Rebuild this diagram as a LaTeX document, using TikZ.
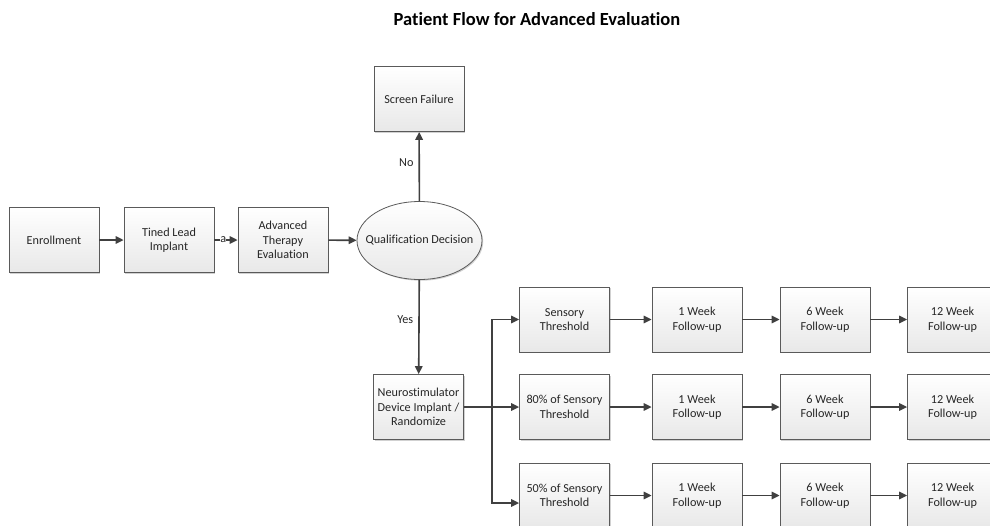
\documentclass[tikz,border=0pt]{standalone}
\usepackage{fontspec}
\setmainfont{Carlito}[Ligatures=NoCommon]
\usetikzlibrary{arrows.meta,shapes.geometric,shadows,calc}
\definecolor{linec}{HTML}{404040}
\definecolor{boxline}{HTML}{5A5A5A}
\definecolor{txt}{HTML}{262626}
\begin{document}
\begin{tikzpicture}[x=1pt,y=-1pt,
  font=\fontsize{12.2}{14.5}\selectfont, text=txt,
  fillshade/.style={top color=white, bottom color=black!9, draw=boxline, line width=0.8pt,
    drop shadow={shadow xshift=1.2pt, shadow yshift=-1.2pt, fill=black!30, opacity=0.6}},
  stepbox/.style={fillshade, rectangle, minimum width=90pt, minimum height=65pt, inner sep=1pt, align=center},
  decision/.style={fillshade, ellipse, minimum width=125pt, minimum height=78pt, inner sep=0pt},
  arr/.style={draw=linec, line width=1.6pt, -{Triangle[length=8pt,width=7.5pt]}},
  lbl/.style={inner sep=1pt, text=txt}]
\useasboundingbox (0,0) rectangle (990,525);
\clip (0,0) rectangle (990,525);
\node[font=\fontsize{18.5}{20}\selectfont\bfseries, text=black] (title) at (537,19) {Patient Flow for Advanced Evaluation};

\node[stepbox] (enr) at (54,240) {Enrollment};
\node[stepbox] (tin) at (169,240) {Tined Lead\\Implant};
\node[stepbox] (adv) at (283,240) {Advanced\\Therapy\\Evaluation};
\node[decision, label={center:Qualification Decision}] (qd) at (419.5,240.5) {};
\node[stepbox] (sf) at (419,99) {Screen Failure};
\node[stepbox] (neu) at (418.5,407) {Neurostimulator\\Device Implant /\\Randomize};

\node[stepbox] (s1) at (564.5,319.5) {Sensory\\Threshold};
\node[stepbox] (s2) at (564.5,407) {80\% of Sensory\\Threshold};
\node[stepbox] (s3) at (564.5,495.5) {50\% of Sensory\\Threshold};
\foreach \r/\y in {1/319.5,2/407,3/495.5}{
  \node[stepbox] (w\r) at (697,\y) {1 Week\\Follow-up};
  \node[stepbox] (m\r) at (825,\y) {6 Week\\Follow-up};
  \node[stepbox] (t\r) at (952.5,\y) {12 Week\\Follow-up};
}

\draw[arr] (enr) -- (tin);
\draw[arr] (tin) -- node[lbl, pos=0.38, fill=white, inner sep=0.3pt] (la) {a} (adv);
\draw[arr] (adv) -- (qd);
\draw[arr] (qd) -- node[lbl, left=4pt, pos=0.55] (lno) {No} (sf);
\draw[arr] (qd) -- node[lbl, left=4pt, pos=0.42] (lyes) {Yes} (neu);

\coordinate (j) at (492,407);
\coordinate (s3in) at ($(s3.west)+(0,7.5)$);
\draw[arr] (neu.east) -- (s2.west);
\draw[arr] (j) |- (s1.west);
\draw[arr] (j) |- (s3in);
\foreach \r in {1,2,3}{
  \draw[arr] (s\r) -- (w\r);
  \draw[arr] (w\r) -- (m\r);
  \draw[arr] (m\r) -- (t\r);
}
\end{tikzpicture}
\end{document}
